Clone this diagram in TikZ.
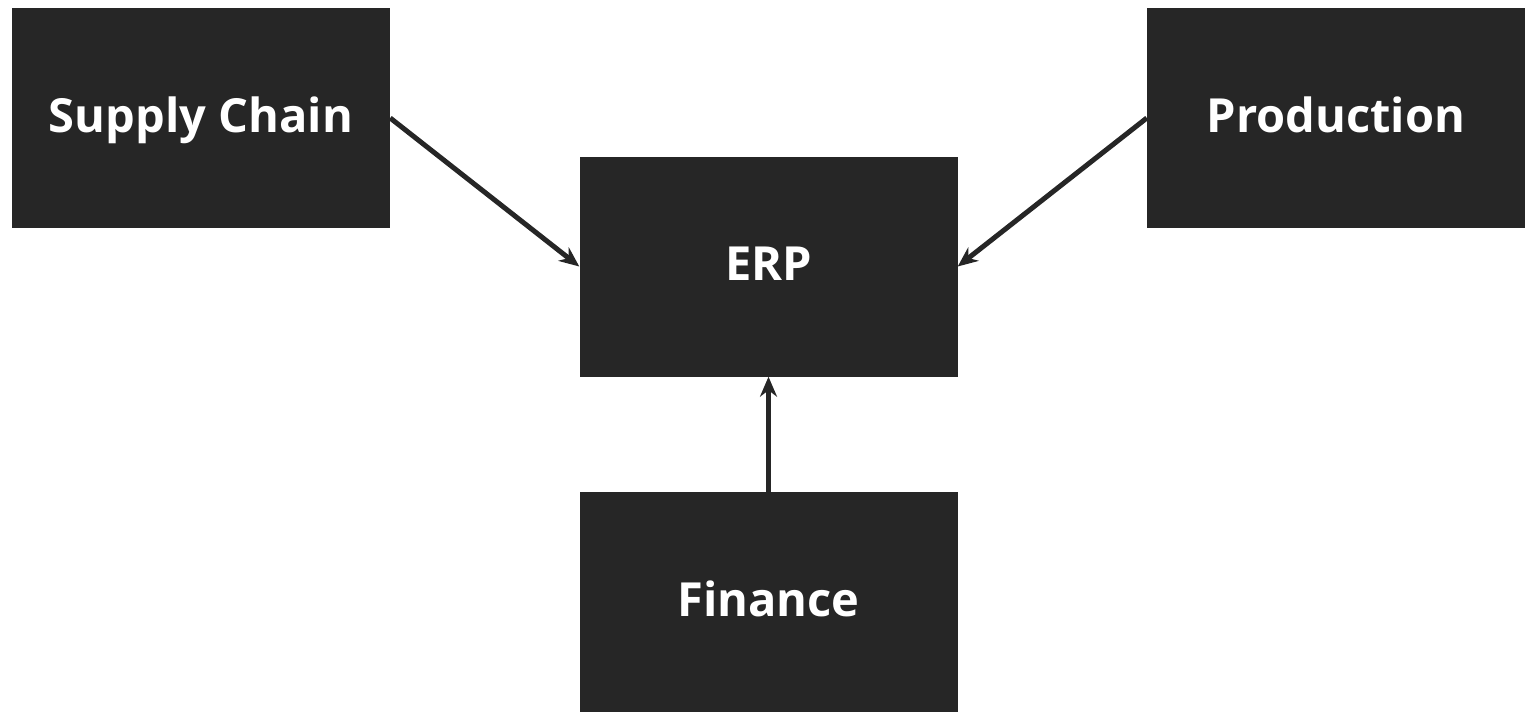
\documentclass[tikz,border=0pt]{standalone}
\usepackage{fontspec}
\setmainfont{Open Sans}
\usetikzlibrary{arrows.meta}
\definecolor{boxgray}{HTML}{262626}
\tikzset{
	unit/.style={fill=boxgray,draw=none,text=white,minimum width=378pt,minimum height=220pt,
		inner sep=0pt,text height=34pt,text depth=6pt,font=\fontsize{47}{56}\selectfont\bfseries},
	link/.style={line width=5pt,color=boxgray,-{Stealth[length=20pt,width=17pt]}}
}
\begin{document}
\begin{tikzpicture}[x=1pt,y=1pt]
	\useasboundingbox (0,0) rectangle (1537,-720);
	\node[unit] (supply) at (201,-118) {Supply Chain};
	\node[unit] (prod) at (1336,-118) {Production};
	\node[unit] (erp) at (768.5,-266.5) {ERP};
	\node[unit] (fin) at (768.5,-602) {Finance};
	\draw[link] (supply.east) -- (erp.west);
	\draw[link] (prod.west) -- (erp.east);
	\draw[link] (fin.north) -- (erp.south);
	\end{tikzpicture}
\end{document}
